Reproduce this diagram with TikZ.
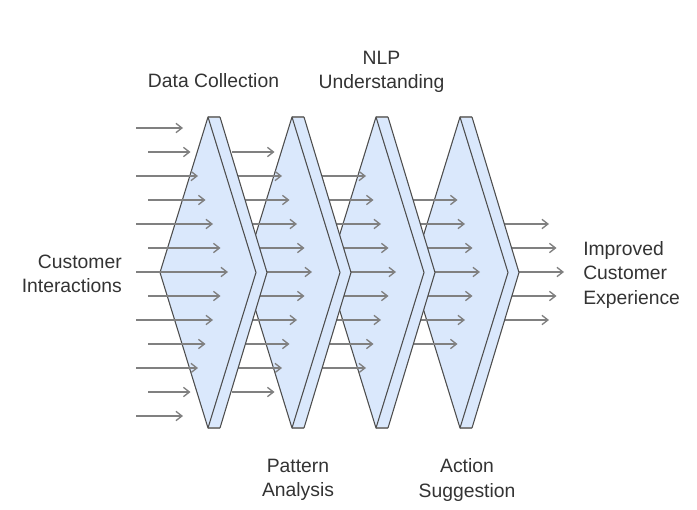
\documentclass[tikz,border=0pt]{standalone}
\usepackage{fontspec}
\setmainfont{Liberation Sans}
\usetikzlibrary{arrows.meta}
\definecolor{shapefill}{HTML}{DAE8FC}
\definecolor{shapeline}{HTML}{4D4D4D}
\definecolor{arrowgray}{HTML}{808080}
\definecolor{textgray}{HTML}{333333}
\tikzset{
  flowarrow/.style={draw=arrowgray, line width=1pt, -{Straight Barb[length=4.5pt,width=7pt]}},
  shapeedge/.style={draw=shapeline, line width=0.8pt, line join=round},
  capline/.style={draw=arrowgray, line width=0.8pt},
  lbl/.style={text=textgray, font=\fontsize{14.5}{18.3}\selectfont, inner sep=0pt},
}
\begin{document}
\begin{tikzpicture}[x=0.75pt,y=-0.75pt]
\useasboundingbox (0,0) rectangle (697,510);
\fill[white] (0,0) rectangle (697,510);
\foreach \c in {4,3,2,1,0}{
  \pgfmathtruncatemacro\kmax{12-\c}
  \foreach \k in {\c,...,\kmax}{
    \pgfmathsetmacro\xs{136+84*\c+12*mod(\k,2)}
    \pgfmathsetmacro\xe{183+84*\c+7.5*(6-abs(\k-6))}
    \pgfmathsetmacro\yy{128+24*\k}
    \draw[flowarrow] (\xs,\yy) -- (\xe,\yy);
  }
  \ifnum\c>0
    \pgfmathsetmacro\dx{84*(\c-1)}
    \begin{scope}[xshift=\dx*0.75pt]
      \fill[shapefill] (208,117) -- (220,117) -- (267,272.5) -- (220,428) -- (208,428) -- (256,272.5) -- cycle;
      \draw[capline] (208,117) -- (220,117);
      \draw[capline] (208,428) -- (220,428);
      \draw[shapeedge] (220,117) -- (267,272.5) -- (220,428);
      \filldraw[shapeedge, fill=shapefill] (208,117) -- (256,272.5) -- (208,428) -- (160,272.5) -- cycle;
    \end{scope}
  \fi
}
\node[lbl] (dc) at (213.5,81) {Data Collection};
\node[lbl, align=center] (nlp) at (381.5,72) {NLP\\Understanding};
\node[lbl, align=center] (pa) at (298,480) {Pattern\\Analysis};
\node[lbl, align=center] (as) at (467,480) {Action\\Suggestion};
\node[lbl, align=right, anchor=east] (ci) at (122,274) {Customer\\Interactions};
\node[lbl, align=left, anchor=west] (ice) at (583,275) {Improved\\Customer\\Experience};
\end{tikzpicture}
\end{document}
